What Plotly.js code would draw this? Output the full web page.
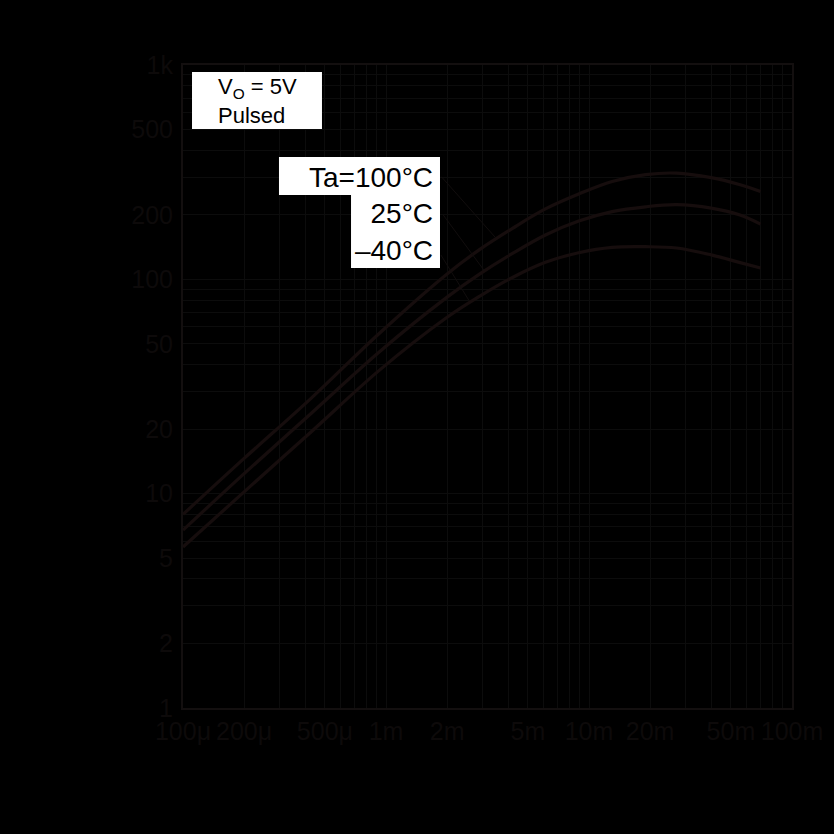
<!DOCTYPE html>
<html>
<head>
<meta charset="utf-8">
<script src="https://cdn.plot.ly/plotly-3.0.1.min.js"></script>
<style>
  html, body { margin: 0; padding: 0; background: #000; }
  #chart { width: 834px; height: 834px; }
</style>
</head>
<body>
<div id="chart"></div>
<script>
// collector current (A)
const ic = [1e-4, 2e-4, 4.3e-4, 9.2e-4, 2e-3, 2.9e-3, 4.2e-3, 6.1e-3, 8.9e-3, 13e-3, 19e-3, 27e-3, 40e-3, 55e-3, 70e-3];

// DC current gain per ambient temperature
const hfe100 = [8.0, 14.6, 28.0, 55.6, 106, 138, 173, 213, 250, 286, 308, 313, 298, 277, 257];
const hfe25 = [6.76, 12.4, 23.8, 45.6, 82.6, 106, 132, 161, 187, 207, 218, 223, 215, 200, 181];
const hfeM40 = [5.64, 10.2, 19.5, 37.4, 66.5, 83.5, 102, 120, 133, 141, 142, 140, 130, 120, 113];

// tick labels
const xTickVals = [1e-4, 2e-4, 5e-4, 1e-3, 2e-3, 5e-3, 1e-2, 2e-2, 5e-2, 1e-1];
const xTickText = ["100μ", "200μ", "500μ", "1m", "2m", "5m", "10m", "20m", "50m", "100m"];
const yTickVals = [1, 2, 5, 10, 20, 50, 100, 200, 500, 1000];
const yTickText = ["1", "2", "5", "10", "20", "50", "100", "200", "500", "1k"];

function decadeMinors(lo, hi) {
    let out = [];
    for (let d = lo; d < hi; d++) {
        for (let m = 1; m <= 9; m++) out.push(m * Math.pow(10, d));
    }
    out.push(Math.pow(10, hi));
    return out;
}

const curveColor = "#160d0d";
const gridColor = "#0c0c0c";
const textColor = "#0d0a0a";
const font = "Liberation Sans, Arial, sans-serif";

function curve(y, name) {
    return {
        x: ic, y: y, name: name,
        mode: "lines", type: "scatter",
        line: { color: curveColor, width: 3.2, shape: "spline", smoothing: 1 },
        hoverinfo: "skip"
    };
}

let plotdata = [curve(hfe100, "Ta=100°C"), curve(hfe25, "25°C"), curve(hfeM40, "–40°C")];

let axisCommon = {
    type: "log",
    showgrid: true, gridcolor: gridColor, gridwidth: 1,
    showline: true, linecolor: "#130f0f", linewidth: 2, mirror: true,
    ticks: "", zeroline: false,
    tickfont: { family: font, size: 25, color: textColor },
    tickmode: "array"
};

let layout = {
    width: 834, height: 834,
    margin: { l: 183, r: 42, t: 65, b: 126 },
    paper_bgcolor: "#000000",
    plot_bgcolor: "#000000",
    showlegend: false,
    xaxis: Object.assign({}, axisCommon, {
        range: [-4, -1],
        tickvals: xTickVals, ticktext: xTickText,
        ticklabelstandoff: 0,
        minor: { tickmode: "array", tickvals: decadeMinors(-4, -1), showgrid: true, gridcolor: gridColor, gridwidth: 1, ticks: "" }
    }),
    yaxis: Object.assign({}, axisCommon, {
        range: [0, 3],
        tickvals: yTickVals, ticktext: yTickText,
        ticklabelstandoff: 3,
        minor: { tickmode: "array", tickvals: decadeMinors(0, 3), showgrid: true, gridcolor: gridColor, gridwidth: 1, ticks: "" }
    }),
    shapes: [
        { type: "rect", xref: "paper", yref: "paper", x0: 0.0148, x1: 0.2282, y0: 0.9005, y1: 0.9891,
          fillcolor: "#ffffff", line: { width: 0 }, layer: "above" },
        { type: "rect", xref: "paper", yref: "paper", x0: 0.1576, x1: 0.4220, y0: 0.7978, y1: 0.8569,
          fillcolor: "#ffffff", line: { width: 0 }, layer: "above" },
        { type: "rect", xref: "paper", yref: "paper", x0: 0.2759, x1: 0.4220, y0: 0.6843, y1: 0.7985,
          fillcolor: "#ffffff", line: { width: 0 }, layer: "above" }
    ],
    annotations: [
        { xref: "paper", yref: "paper", x: 0.0543, y: 0.9891, xanchor: "left", yanchor: "top",
          text: "V<sub>O</sub> = 5V<br>Pulsed", align: "left", showarrow: false,
          font: { family: font, size: 22, color: "#000000" } },
        { xref: "paper", yref: "paper", x: 0.4138, y: 0.8523, xanchor: "right", yanchor: "top",
          text: "Ta=100°C<br>25°C<br>–40°C", align: "right", showarrow: false,
          font: { family: font, size: 28, color: "#000000" } },
        // leader lines from the labels to the curves
        { x: -2.458, y: 2.192, text: "", showarrow: true, arrowhead: 0, arrowwidth: 1,
          arrowcolor: "#110d0d", ax: -56, ay: -63 },
        { x: -2.517, y: 2.042, text: "", showarrow: true, arrowhead: 0, arrowwidth: 1,
          arrowcolor: "#110d0d", ax: -42, ay: -57 },
        { x: -2.591, y: 1.901, text: "", showarrow: true, arrowhead: 0, arrowwidth: 1,
          arrowcolor: "#110d0d", ax: -29, ay: -47 }
    ]
};

Plotly.newPlot("chart", plotdata, layout, { displayModeBar: false, staticPlot: true });
</script>
</body>
</html>
